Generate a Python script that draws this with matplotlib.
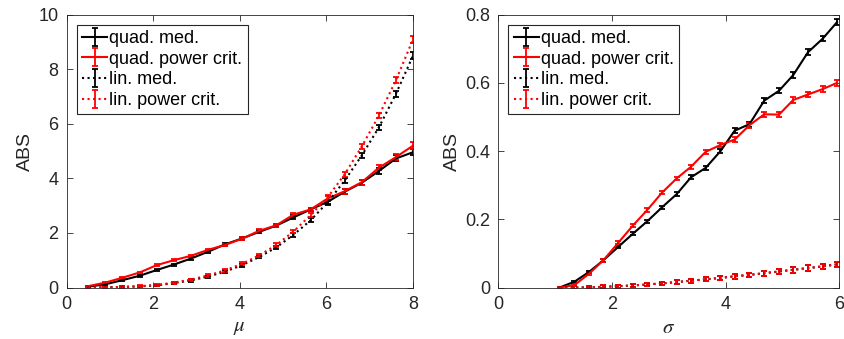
import matplotlib.pyplot as plt
import numpy as np

# x grids
mu = [0.5, 0.895, 1.289, 1.684, 2.079, 2.474, 2.868, 3.263, 3.658, 4.053,
      4.447, 4.842, 5.237, 5.632, 6.026, 6.421, 6.816, 7.211, 7.605, 8.0]
sigma = [1.08, 1.34, 1.6, 1.85, 2.11, 2.37, 2.62, 2.88, 3.14, 3.39,
         3.65, 3.91, 4.16, 4.42, 4.68, 4.94, 5.19, 5.45, 5.71, 5.96]

# left panel (mu)
mu_quad_med = [0.03, 0.12, 0.27, 0.43, 0.64, 0.84, 1.06, 1.31, 1.58, 1.80,
               2.04, 2.27, 2.57, 2.86, 3.14, 3.51, 3.84, 4.27, 4.73, 4.96]
mu_quad_pc = [0.05, 0.18, 0.36, 0.55, 0.82, 1.00, 1.16, 1.38, 1.56, 1.79,
              2.08, 2.28, 2.67, 2.86, 3.26, 3.53, 3.86, 4.39, 4.78, 5.20]
mu_lin_med = [0.0, 0.01, 0.02, 0.04, 0.08, 0.16, 0.26, 0.40, 0.58, 0.82,
              1.12, 1.47, 1.93, 2.46, 3.12, 3.92, 4.84, 5.87, 7.10, 8.50]
mu_lin_pc = [0.0, 0.01, 0.02, 0.05, 0.09, 0.18, 0.29, 0.44, 0.63, 0.87,
             1.18, 1.56, 2.05, 2.65, 3.30, 4.15, 5.17, 6.30, 7.60, 9.10]
mu_err = [0.02, 0.02, 0.03, 0.03, 0.03, 0.04, 0.04, 0.04, 0.05, 0.05,
          0.05, 0.06, 0.07, 0.07, 0.08, 0.09, 0.09, 0.10, 0.11, 0.12]

# right panel (sigma)
sg_quad_med = [0.0, 0.017, 0.046, 0.080, 0.119, 0.158, 0.194, 0.235, 0.274, 0.323,
               0.351, 0.400, 0.460, 0.479, 0.548, 0.577, 0.623, 0.690, 0.730, 0.778]
sg_quad_pc = [0.0, 0.007, 0.041, 0.080, 0.131, 0.182, 0.227, 0.278, 0.320, 0.354,
              0.398, 0.418, 0.434, 0.476, 0.508, 0.507, 0.550, 0.566, 0.582, 0.600]
sg_lin_med = [0.0, 0.0, 0.0005, 0.002, 0.004, 0.006, 0.009, 0.012, 0.016, 0.020,
              0.024, 0.028, 0.033, 0.037, 0.042, 0.047, 0.052, 0.057, 0.062, 0.068]
sg_lin_pc = [0.0, 0.0, 0.0005, 0.002, 0.004, 0.006, 0.009, 0.012, 0.016, 0.020,
             0.024, 0.028, 0.033, 0.037, 0.042, 0.047, 0.052, 0.057, 0.062, 0.068]
sg_err = [0.002, 0.003, 0.003, 0.004, 0.004, 0.005, 0.005, 0.005, 0.005, 0.006,
          0.006, 0.006, 0.007, 0.007, 0.007, 0.007, 0.008, 0.008, 0.008, 0.008]

labels = ['quad. med.', 'quad. power crit.', 'lin. med.', 'lin. power crit.']

plt.rcParams['font.family'] = ['Liberation Sans', 'DejaVu Sans']
plt.rcParams['mathtext.fontset'] = 'stix'
gray = '#262626'

fig = plt.figure(figsize=(8.45, 3.39), dpi=100)
ax1 = fig.add_axes([0.0789, 0.1519, 0.4099, 0.8047])
ax2 = fig.add_axes([0.5897, 0.1519, 0.4035, 0.8047])


def draw(ax, x, series, err):
    styles = [('k', '-'), ('r', '-'), ('k', ':'), ('r', ':')]
    for (c, ls), y, lab in zip(styles, series, labels):
        ax.errorbar(x, y, yerr=err, color=c, ecolor=c, linestyle=ls,
                    linewidth=1.5, elinewidth=1.3, capsize=2.5,
                    capthick=1.3, label=lab)
    leg = ax.legend(loc='upper left', fontsize=13, handlelength=1.4,
                    handletextpad=0.1, labelspacing=0.2, borderpad=0.3,
                    borderaxespad=0.55, fancybox=False, framealpha=1)
    leg.get_frame().set_edgecolor(gray)
    leg.get_frame().set_linewidth(0.8)
    ax.tick_params(direction='in', top=True, right=True, labelsize=13,
                   colors=gray, length=4, width=0.6, pad=6)
    for s in ax.spines.values():
        s.set_color(gray)
        s.set_linewidth(0.6)
    ax.set_ylabel('ABS', fontsize=14, color=gray, labelpad=3)


draw(ax1, mu, [mu_quad_med, mu_quad_pc, mu_lin_med, mu_lin_pc], mu_err)
ax1.set_xlim(0, 8)
ax1.set_ylim(0, 10)
ax1.set_xticks([0, 2, 4, 6, 8])
ax1.set_yticks([0, 2, 4, 6, 8, 10])
ax1.set_xlabel(r'$\mu$', fontsize=15, color=gray, labelpad=4)

draw(ax2, sigma, [sg_quad_med, sg_quad_pc, sg_lin_med, sg_lin_pc], sg_err)
ax2.set_xlim(0, 6)
ax2.set_ylim(0, 0.8)
ax2.set_xticks([0, 2, 4, 6])
ax2.set_yticks([0, 0.2, 0.4, 0.6, 0.8])
ax2.set_yticklabels(['0', '0.2', '0.4', '0.6', '0.8'])
ax2.set_xlabel(r'$\sigma$', fontsize=15, color=gray, labelpad=4)

fig.savefig('out.png', dpi=100)
